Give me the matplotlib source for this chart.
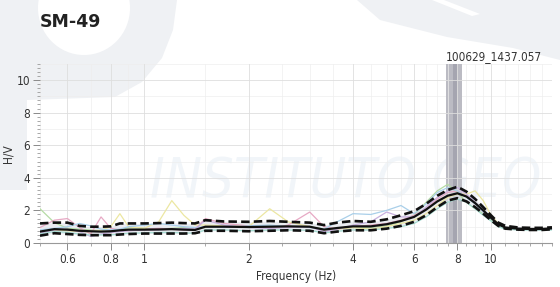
import matplotlib
matplotlib.use("Agg")
import matplotlib.pyplot as plt
from matplotlib.patches import Polygon, Ellipse
from matplotlib.ticker import FixedLocator, FixedFormatter, NullFormatter, MultipleLocator

# frequency grid (Hz) and H/V curves
freq = [0.50, 0.55, 0.60, 0.65, 0.70, 0.75, 0.80, 0.85, 0.90, 1.00, 1.10, 1.20, 1.30, 1.40,
        1.50, 1.70, 2.00, 2.30, 2.60, 3.00, 3.30, 3.60, 4.00, 4.50, 5.00, 5.50, 6.00, 6.50,
        7.00, 7.50, 8.00, 8.50, 9.00, 9.50, 10.0, 10.5, 11.0, 12.0, 13.0, 14.0, 15.0]

hv_mean = [0.70, 0.85, 0.82, 0.75, 0.72, 0.70, 0.72, 0.78, 0.82, 0.82, 0.83, 0.85, 0.82, 0.80,
           1.00, 1.00, 0.98, 1.00, 1.02, 1.00, 0.82, 0.92, 1.02, 1.02, 1.15, 1.35, 1.60, 2.05,
           2.55, 2.90, 3.05, 2.85, 2.45, 2.00, 1.55, 1.15, 0.95, 0.88, 0.86, 0.86, 0.90]
hv_upper = [1.20, 1.25, 1.25, 1.05, 1.00, 1.00, 1.02, 1.20, 1.20, 1.20, 1.22, 1.25, 1.22, 1.20,
            1.40, 1.32, 1.30, 1.35, 1.30, 1.25, 1.10, 1.25, 1.35, 1.30, 1.45, 1.70, 1.95, 2.40,
            2.90, 3.25, 3.45, 3.15, 2.70, 2.20, 1.70, 1.25, 1.05, 0.95, 0.93, 0.93, 0.96]
hv_lower = [0.45, 0.60, 0.55, 0.50, 0.48, 0.48, 0.48, 0.52, 0.55, 0.58, 0.58, 0.58, 0.58, 0.60,
            0.75, 0.75, 0.72, 0.75, 0.78, 0.75, 0.60, 0.70, 0.78, 0.78, 0.88, 1.05, 1.30, 1.70,
            2.20, 2.60, 2.75, 2.55, 2.20, 1.80, 1.40, 1.05, 0.88, 0.82, 0.80, 0.80, 0.84]

win_green = [2.10, 1.25, 0.90, 0.85, 0.80, 0.75, 0.70, 0.80, 0.95, 0.90, 0.85, 0.90, 0.95, 0.85,
             0.95, 1.05, 1.00, 1.05, 0.95, 1.00, 0.85, 0.90, 0.95, 0.95, 1.05, 1.30, 1.70, 2.50,
             3.20, 3.60, 3.10, 2.50, 2.10, 1.80, 1.40, 1.05, 0.90, 0.85, 0.85, 0.85, 0.85]
win_pink = [0.95, 1.40, 1.50, 0.95, 0.55, 1.60, 0.90, 0.80, 0.75, 0.85, 0.90, 0.85, 0.80, 0.85,
            1.50, 1.20, 1.05, 0.90, 1.10, 1.90, 1.00, 0.85, 1.00, 1.10, 1.20, 1.40, 1.70, 2.10,
            2.70, 3.10, 3.20, 2.90, 2.40, 1.90, 1.50, 1.15, 0.95, 0.90, 0.85, 0.85, 0.90]
win_yellow = [0.70, 0.80, 0.75, 0.70, 0.70, 0.80, 1.00, 1.80, 1.00, 0.90, 1.30, 2.60, 1.70, 1.10,
              1.10, 1.05, 1.00, 2.10, 1.30, 1.00, 0.80, 0.85, 0.95, 0.85, 1.00, 1.20, 1.40, 1.80,
              2.30, 2.80, 3.00, 3.00, 3.20, 2.60, 1.70, 1.20, 0.95, 0.85, 0.85, 0.85, 0.85]
win_blue = [0.80, 0.90, 1.00, 1.20, 1.05, 0.85, 0.80, 0.85, 1.00, 1.10, 1.20, 1.10, 1.00, 0.95,
            1.00, 0.95, 1.05, 1.10, 1.00, 0.95, 0.85, 1.30, 1.80, 1.75, 2.00, 2.30, 1.80, 2.40,
            3.10, 3.40, 3.20, 2.80, 2.40, 1.90, 1.50, 1.10, 0.95, 0.90, 0.85, 0.85, 0.90]
win_purple = [0.60, 0.80, 0.85, 0.70, 0.40, 0.55, 0.65, 0.70, 0.75, 0.80, 0.80, 0.85, 0.90, 0.85,
              1.40, 1.10, 0.95, 0.90, 0.95, 1.00, 0.70, 0.85, 1.10, 1.30, 1.90, 1.60, 1.60, 2.20,
              2.80, 3.20, 3.40, 3.00, 2.50, 2.00, 1.55, 1.15, 0.95, 0.85, 0.85, 0.85, 0.85]
win_teal = [0.55, 0.70, 0.65, 0.55, 0.50, 0.50, 0.50, 0.55, 0.60, 0.62, 0.65, 0.65, 0.62, 0.60,
            0.80, 0.80, 0.75, 0.80, 0.80, 0.78, 0.62, 0.72, 0.80, 0.80, 0.90, 1.00, 1.20, 1.60,
            2.10, 2.50, 2.70, 2.50, 2.10, 1.70, 1.35, 1.00, 0.85, 0.80, 0.80, 0.80, 0.80]

windows = [win_green, win_pink, win_yellow, win_blue, win_purple, win_teal]
win_colors = ["#b5dba5", "#e7a9c4", "#ece7a2", "#a9cfe9", "#c7b0df", "#a6dcd2"]

peak_lo, peak_hi = 7.41, 8.25
peak_core = (7.78, 7.98)
peak_label = "100629_1437.057"

x_major = [0.6, 0.8, 1, 2, 4, 6, 8, 10]
x_labels = ["0.6", "0.8", "1", "2", "4", "6", "8", "10"]
x_minor = [0.5, 0.7, 0.9, 1.5, 2.5, 3, 3.5, 4.5, 5, 5.5, 6.5, 7, 7.5, 8.5, 9, 9.5,
           11, 12, 13, 14, 15]

W, H = 560, 287
fig = plt.figure(figsize=(5.6, 2.87), dpi=100)
fig.patch.set_facecolor("white")


def px(x, y):
    return (x / W, 1 - y / H)


# faint logo watermark behind the chart
wm_gray = "#eff1f4"
left_shape = [(0, 0), (177, 0), (173, 30), (162, 58), (142, 82), (115, 97), (27, 100),
              (27, 190), (0, 190)]
fig.add_artist(Polygon([px(*p) for p in left_shape], closed=True, transform=fig.transFigure,
                       fc=wm_gray, ec="none", zorder=0))
fig.add_artist(Ellipse(px(84, 8), width=92 / W, height=94 / H, transform=fig.transFigure,
                       fc="white", ec="none", zorder=0.1))
swoosh = [(357, 0), (560, 0), (560, 60), (513, 48), (447, 37), (380, 20)]
fig.add_artist(Polygon([px(*p) for p in swoosh], closed=True, transform=fig.transFigure,
                       fc=wm_gray, ec="none", zorder=0))
streak = [(432, 0), (444, 0), (480, 14), (472, 16)]
fig.add_artist(Polygon([px(*p) for p in streak], closed=True, transform=fig.transFigure,
                       fc="white", ec="none", zorder=0.1))
fig.text(*px(150, 197), "INSTITUTO GEO", fontsize=40, style="italic",
         fontstretch="condensed", color="#f1f5f9", va="baseline", ha="left", zorder=0.2)

ax = fig.add_axes([40 / W, 1 - 243 / H, 512 / W, (243 - 63.7) / H])
ax.set_facecolor("none")
ax.set_zorder(1)

ax.axvspan(peak_lo, peak_hi, color="#bbbbc3", lw=0, zorder=1)
ax.axvspan(*peak_core, color="#a5a5b0", lw=0, zorder=1.1)

ax.fill_between(freq, hv_lower, hv_upper, color="#e2e5ec", alpha=0.7, lw=0, zorder=1.5)
for w, c in zip(windows, win_colors):
    ax.plot(freq, w, color=c, lw=0.9, zorder=2)

ax.plot(freq, hv_upper, color="#111111", lw=1.9, ls=(0, (3.2, 1.6)), zorder=3)
ax.plot(freq, hv_lower, color="#111111", lw=1.9, ls=(0, (3.2, 1.6)), zorder=3)
ax.plot(freq, hv_mean, color="#111111", lw=1.6, zorder=3.2)

ax.set_xscale("log")
ax.set_xlim(0.5, 15)
ax.set_ylim(0, 11)

ax.xaxis.set_major_locator(FixedLocator(x_major))
ax.xaxis.set_major_formatter(FixedFormatter(x_labels))
ax.xaxis.set_minor_locator(FixedLocator(x_minor))
ax.xaxis.set_minor_formatter(NullFormatter())
ax.yaxis.set_major_locator(MultipleLocator(2))
ax.yaxis.set_minor_locator(MultipleLocator(0.25))

ax.grid(which="major", color="#dedede", lw=0.6, zorder=0.5)
ax.grid(which="minor", axis="x", color="#eeeeee", lw=0.5, zorder=0.5)
ax.hlines([1, 3, 5, 7, 9, 11], 0.5, 15, color="#eeeeee", lw=0.5, zorder=0.5)

for s in ["top", "right", "left"]:
    ax.spines[s].set_visible(False)
ax.spines["bottom"].set_color("#999999")
ax.spines["bottom"].set_linewidth(0.8)

tick_font = dict(family="DejaVu Sans", stretch="condensed", size=8.5)
ax.tick_params(which="major", length=5, width=0.7, color="#8a8a8a", labelcolor="#333333",
               labelsize=8.5, pad=2)
ax.tick_params(which="minor", length=2.5, width=0.6, color="#9a9a9a")
for lab in ax.get_xticklabels() + ax.get_yticklabels():
    lab.set_fontstretch("condensed")

ax.set_xlabel("Frequency (Hz)", fontdict=tick_font, color="#333333", labelpad=3)
ax.set_ylabel("H/V", fontdict=tick_font, color="#333333")
ax.yaxis.set_label_coords(-0.05, 0.5)

ax.text(peak_lo, 1.005, peak_label, transform=ax.get_xaxis_transform(), ha="left",
        va="bottom", fontsize=8.5, fontstretch="condensed", color="#333333")

fig.text(40 / W, 1 - 22 / H, "SM-49", fontsize=12.5, fontweight="bold", color="#222222",
         va="center", ha="left")

fig.savefig("out.png", dpi=100)
